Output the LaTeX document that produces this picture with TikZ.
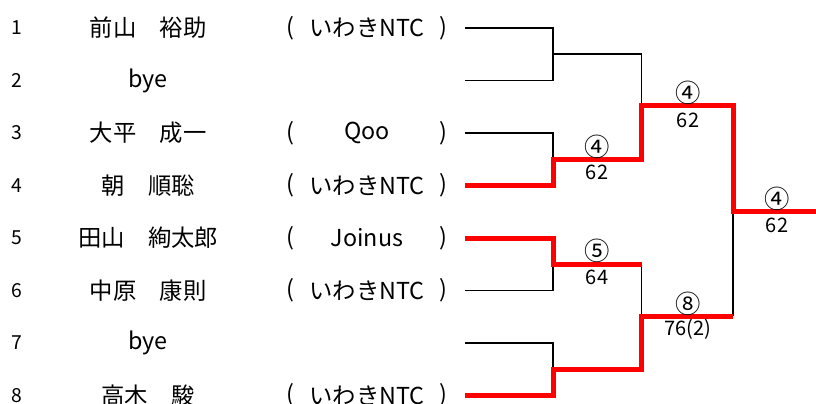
\documentclass[tikz,border=0pt]{standalone}
\usepackage{fontspec}
\setmainfont{Noto Sans CJK JP}

\begin{document}
\begin{tikzpicture}[
    x=0.75pt, y=-0.75pt,
    every node/.style={inner sep=0pt, anchor=center},
    num/.style={font=\fontsize{14.5}{15}\selectfont},
    player/.style={font=\fontsize{17.5}{18}\selectfont},
    club/.style={font=\fontsize{17.5}{18}\selectfont},
    winner/.style={font=\fontsize{19}{20}\selectfont},
    score/.style={font=\fontsize{15}{16}\selectfont},
    lose/.style={draw, black, line width=1.2pt},
    win/.style={draw, red, line width=3.75pt}
  ]
    \useasboundingbox (0,0) rectangle (816,403);

    % entrants
    \node[num] (n1) at (17,28) {1};
    \node[player] (p1) at (148,28) {前山　裕助};
    \node[club] (lp1) at (290,28) {(};
    \node[club] (c1) at (367,28) {いわきNTC};
    \node[club] (rp1) at (443,28) {)};

    \node[num] (n2) at (17,80.5) {2};
    \node[player] (p2) at (148,80.5) {bye};

    \node[num] (n3) at (17,133) {3};
    \node[player] (p3) at (148,133) {大平　成一};
    \node[club] (lp3) at (290,133) {(};
    \node[club] (c3) at (367,133) {Qoo};
    \node[club] (rp3) at (443,133) {)};

    \node[num] (n4) at (17,185.5) {4};
    \node[player] (p4) at (148,185.5) {朝　順聡};
    \node[club] (lp4) at (290,185.5) {(};
    \node[club] (c4) at (367,185.5) {いわきNTC};
    \node[club] (rp4) at (443,185.5) {)};

    \node[num] (n5) at (17,238) {5};
    \node[player] (p5) at (148,238) {田山　絢太郎};
    \node[club] (lp5) at (290,238) {(};
    \node[club] (c5) at (367,238) {Joinus};
    \node[club] (rp5) at (443,238) {)};

    \node[num] (n6) at (17,290.5) {6};
    \node[player] (p6) at (148,290.5) {中原　康則};
    \node[club] (lp6) at (290,290.5) {(};
    \node[club] (c6) at (367,290.5) {いわきNTC};
    \node[club] (rp6) at (443,290.5) {)};

    \node[num] (n7) at (17,343) {7};
    \node[player] (p7) at (148,343) {bye};

    \node[num] (n8) at (17,395.5) {8};
    \node[player] (p8) at (148,395.5) {高木　駿};
    \node[club] (lp8) at (290,395.5) {(};
    \node[club] (c8) at (367,395.5) {いわきNTC};
    \node[club] (rp8) at (443,395.5) {)};

    % bracket points
    \coordinate (e1) at (465,28);
    \coordinate (e2) at (465,80.5);
    \coordinate (e3) at (465,133);
    \coordinate (e4) at (465,185.5);
    \coordinate (e5) at (465,238);
    \coordinate (e6) at (465,290.5);
    \coordinate (e7) at (465,343);
    \coordinate (e8) at (465,395.5);
    \coordinate (m1) at (553,54);
    \coordinate (m2) at (553,159);
    \coordinate (m3) at (553,264);
    \coordinate (m4) at (553,369);
    \coordinate (q1) at (641.5,105.5);
    \coordinate (q2) at (641.5,316);
    \coordinate (f) at (733,211);
    \coordinate (champ) at (816,211);

    % lost lines
    \draw[lose] (e1) -| (m1) -| (q1);
    \draw[lose] (e2) -| (m1);
    \draw[lose] (e3) -| (m2);
    \draw[lose] (e6) -| (m3);
    \draw[lose] (m3 -| q2) -- (q2);
    \draw[lose] (e7) -| (m4);
    \draw[lose] (q2 -| f) -- (f);

    % winning lines
    \draw[win] (e4) -| (m2) -| (q1) -| (f) -- (champ);
    \draw[win] (e5) -| (m3) -- (m3 -| q2);
    \draw[win] (e8) -| (m4) -| (q2) -- (q2 -| f);

    % results
    \node[winner] (w2) at (597,147) {④};
    \node[score] (s2) at (597,172) {62};
    \node[winner] (w3) at (597,251) {⑤};
    \node[score] (s3) at (597,277) {64};
    \node[winner] (w5) at (688,93) {④};
    \node[score] (s5) at (688,120) {62};
    \node[winner] (w6) at (688,304) {⑧};
    \node[score] (s6) at (688,329) {76(2)};
    \node[winner] (w7) at (777,199) {④};
    \node[score] (s7) at (777,225) {62};
\end{tikzpicture}
\end{document}
